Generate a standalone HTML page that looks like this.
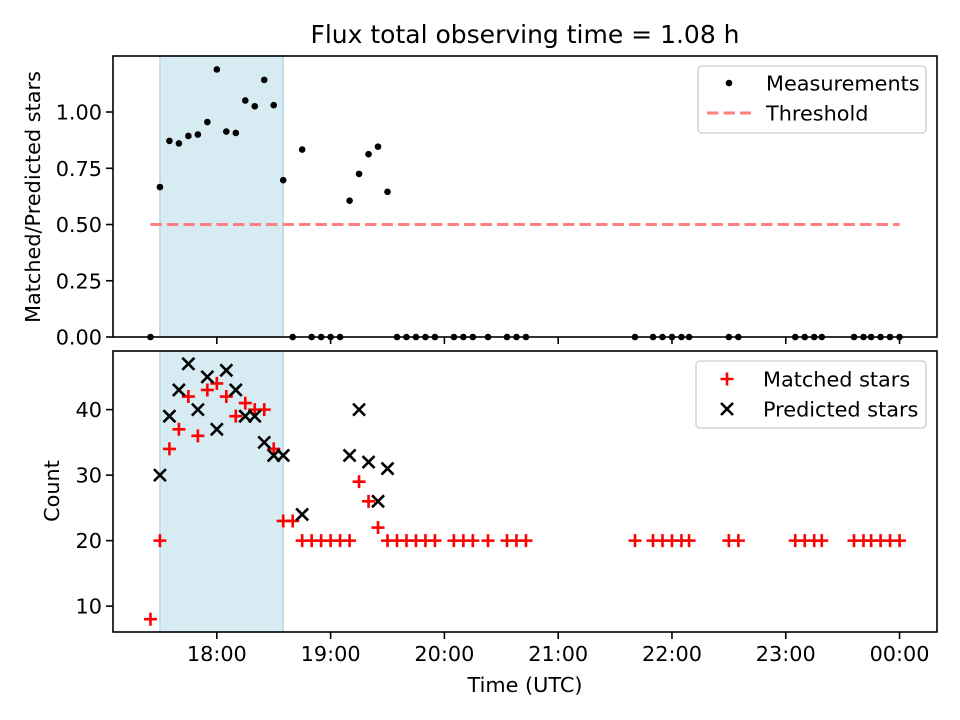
<!DOCTYPE html>
<html><head><meta charset="utf-8"><style>
html,body{margin:0;padding:0;background:#fff;}
svg{display:block;font-family:"DejaVu Sans","Liberation Sans",sans-serif;}
</style></head><body>
<svg id="chart" width="960" height="720" viewBox="0 0 960 720"></svg>
<script>
// minutes relative to 18:00 UTC
const times = [-35,-30,-25,-20,-15,-10,-5,0,5,10,15,20,25,30,35,40,45,50,55,60,65,70,75,80,85,90,95,100,105,110,115,125,130,135,143,153,158,163,220.5,230,235,240,245,249,270,275,305,310,315,319,336,341,345,350,355,360];
const matched = [8,20,34,37,42,36,43,44,42,39,41,40,40,34,23,23,20,20,20,20,20,20,29,26,22,20,20,20,20,20,20,20,20,20,20,20,20,20,20,20,20,20,20,20,20,20,20,20,20,20,20,20,20,20,20,20];
const predicted = [null,30,39,43,47,40,45,37,46,43,39,39,35,33,33,null,24,null,null,null,null,33,40,32,26,31,null,null,null,null,null,null,null,null,null,null,null,null,null,null,null,null,null,null,null,null,null,null,null,null,null,null,null,null,null,null];
const shadeSpan = [-30, 35];
const threshold = 0.5;
const xTickLabels = ["18:00","19:00","20:00","21:00","22:00","23:00","00:00"];
const xTickValues = [0,60,120,180,240,300,360];
const topTicks = [0,0.25,0.5,0.75,1.0];
const botTicks = [10,20,30,40];

const NS="http://www.w3.org/2000/svg";
const svg=document.getElementById('chart');
function el(tag,attrs,parent){const e=document.createElementNS(NS,tag);for(const k in attrs)e.setAttribute(k,attrs[k]);(parent||svg).appendChild(e);return e;}
const L=113,R=937;
const xmin=-54.75,xmax=379.75;
const X=t=>L+(t-xmin)/(xmax-xmin)*(R-L);
const T1=56,B1=337,T2=351,B2=632;
const Y1=v=>B1-v/1.249*(B1-T1);
const Y2=v=>B2-(v-6.05)/(48.95-6.05)*(B2-T2);

// title
const title=el('text',{x:525,y:43,'text-anchor':'middle','font-size':25,fill:'#000'});
title.textContent='Flux total observing time = 1.08 h';



function panel(T,B,name){
  const g=el('g',{});
  
  
  const sh=el('rect',{x:X(shadeSpan[0]),y:T,width:X(shadeSpan[1])-X(shadeSpan[0]),height:B-T,fill:'#d6ebf2',stroke:'#b4dbe6','stroke-width':1.5},g);
  
  
  return g;
}
const g1=panel(T1,B1,'ratio-panel');
const g2=panel(T2,B2,'count-panel');

// threshold
const th=el('line',{x1:X(times[0]),x2:X(times[times.length-1]),y1:Y1(threshold),y2:Y1(threshold),stroke:'#ff8080','stroke-width':3,'stroke-dasharray':'11.5,5'},g1);



// ratio points
times.forEach((t,i)=>{
  const r=predicted[i]?matched[i]/predicted[i]:0;
  const c=el('circle',{cx:X(t),cy:Y1(r),r:3.3,fill:'#000'},g1);
  
  
});

function plus(x,y,g){const p=el('path',{d:`M${x-6.5},${y}H${x+6.5}M${x},${y-6.5}V${y+6.5}`,stroke:'#ff0000','stroke-width':2.6,fill:'none'},g);return p;}
function cross(x,y,g){const p=el('path',{d:`M${x-6},${y-6}L${x+6},${y+6}M${x-6},${y+6}L${x+6},${y-6}`,stroke:'#000','stroke-width':2.6,fill:'none'},g);return p;}
times.forEach((t,i)=>{
  const p=plus(X(t),Y2(matched[i]),g2);
  
  
});
times.forEach((t,i)=>{
  if(predicted[i]==null)return;
  const p=cross(X(t),Y2(predicted[i]),g2);
  
  
});

// frames and ticks
[[T1,B1],[T2,B2]].forEach(([T,B],k)=>{
  const f=el('rect',{x:L,y:T,width:R-L,height:B-T,fill:'none',stroke:'#000','stroke-width':1.6});
  
  
  xTickValues.forEach((v,i)=>{
    el('line',{x1:X(v),x2:X(v),y1:B,y2:B+7,stroke:'#000','stroke-width':1.6});
    if(k===1){
      const tx=el('text',{x:X(v),y:B+29,'text-anchor':'middle','font-size':20.8});
      tx.textContent=xTickLabels[i];
      
      
    }
  });
});
topTicks.forEach(v=>{
  el('line',{x1:L-7,x2:L,y1:Y1(v),y2:Y1(v),stroke:'#000','stroke-width':1.6});
  const tx=el('text',{x:L-11,y:Y1(v)+7.5,'text-anchor':'end','font-size':20.8});
  tx.textContent=v.toFixed(2);
  
  
});
botTicks.forEach(v=>{
  el('line',{x1:L-7,x2:L,y1:Y2(v),y2:Y2(v),stroke:'#000','stroke-width':1.6});
  const tx=el('text',{x:L-11,y:Y2(v)+7.5,'text-anchor':'end','font-size':20.8});
  tx.textContent=String(v);
  
  
});

// axis labels
const xl=el('text',{x:525,y:692,'text-anchor':'middle','font-size':20.8});
xl.textContent='Time (UTC)';


const yl1=el('text',{x:0,y:0,'text-anchor':'middle','font-size':20.8,transform:'translate(40,197) rotate(-90)'});
yl1.textContent='Matched/Predicted stars';


const yl2=el('text',{x:0,y:0,'text-anchor':'middle','font-size':20.8,transform:'translate(59,491) rotate(-90)'});
yl2.textContent='Count';



// legends
function legendBox(x,y,w,h,name){
  const g=el('g',{});
  
  
  el('rect',{x:x,y:y,width:w,height:h,rx:4,fill:'#fff','fill-opacity':0.8,stroke:'#d5d5d5','stroke-width':1.6},g);
  return g;
}
const lg1=legendBox(698,66,228,67,'ratio-legend');
el('circle',{cx:729,cy:83,r:3.3,fill:'#000'},lg1);
const lt1=el('text',{x:766,y:90.5,'font-size':20.8},lg1);lt1.textContent='Measurements';


el('line',{x1:707,x2:751,y1:113,y2:113,stroke:'#ff8080','stroke-width':3,'stroke-dasharray':'11.5,5'},lg1);
const lt2=el('text',{x:766,y:120.5,'font-size':20.8},lg1);lt2.textContent='Threshold';



const lg2=legendBox(696,361,230,67,'count-legend');
plus(727,379,lg2);
const lt3=el('text',{x:763,y:386.5,'font-size':20.8},lg2);lt3.textContent='Matched stars';


cross(727,409,lg2);
const lt4=el('text',{x:763,y:416.5,'font-size':20.8},lg2);lt4.textContent='Predicted stars';


</script>
</body></html>
